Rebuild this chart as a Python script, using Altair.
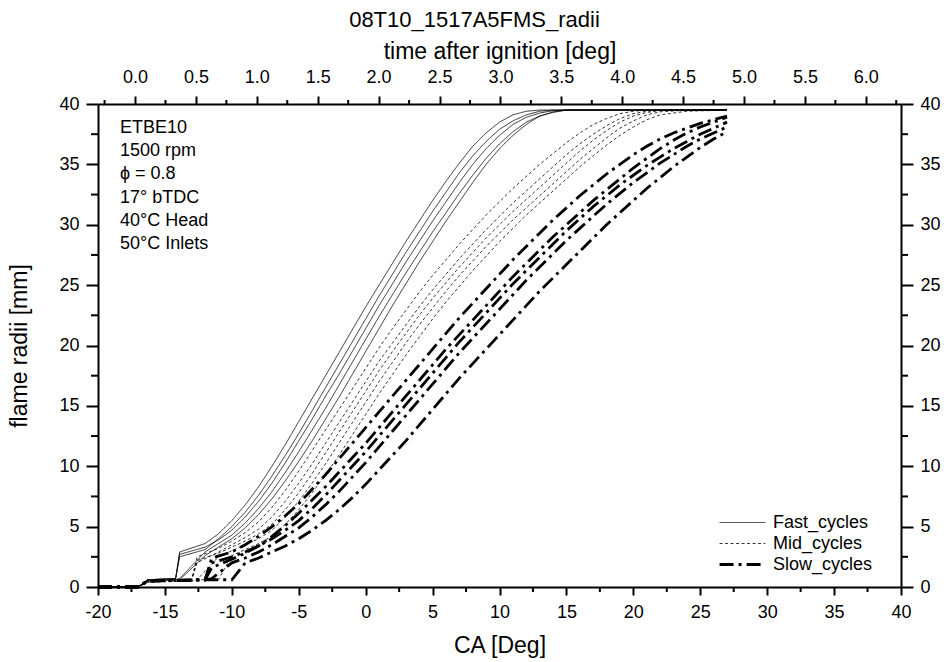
import altair as alt
import pandas as pd

FONT = "Liberation Sans"
GROUPS = ["Fast_cycles", "Mid_cycles", "Slow_cycles"]

# ---------------- data ----------------
FAST_CA = [-20, -17, -16.3, -14.2, -13.9, -12, -11, -10, -9, -8, -7, -6, -5, -4, -3, -2, -1,
           0, 1, 2, 3, 4, 5, 6, 7, 8, 9, 10, 11, 12, 13, 14, 15, 16, 27]
FAST_RUNS = [
    [0, 0, 0.6, 0.7, 2.9, 3.6, 4.4, 5.5, 6.8, 8.3, 10.0, 11.8, 13.7, 15.6, 17.5, 19.4, 21.3,
     23.2, 25.0, 26.8, 28.6, 30.3, 32.0, 33.6, 35.1, 36.5, 37.6, 38.5, 39.1, 39.4, 39.5, 39.5, 39.5, 39.5, 39.5],
    [0, 0, 0.6, 0.7, 2.5, 3.1, 4.0, 5.0, 6.2, 7.6, 9.2, 10.9, 12.7, 14.6, 16.5, 18.4, 20.3,
     22.2, 24.1, 25.9, 27.7, 29.4, 31.1, 32.7, 34.3, 35.7, 36.9, 37.9, 38.6, 39.1, 39.4, 39.5, 39.5, 39.5, 39.5],
    [0, 0, 0.6, 0.7, 2.7, 3.3, 3.9, 4.7, 5.8, 7.1, 8.6, 10.3, 12.1, 13.9, 15.8, 17.6, 19.5,
     21.4, 23.3, 25.1, 26.9, 28.6, 30.3, 31.9, 33.5, 35.0, 36.3, 37.4, 38.3, 38.9, 39.25, 39.45, 39.5, 39.5, 39.5],
    [0, 0, 0.5, 0.6, 0.7, 2.9, 3.6, 4.3, 5.3, 6.5, 7.9, 9.5, 11.2, 13.0, 14.8, 16.7, 18.6,
     20.5, 22.4, 24.2, 26.0, 27.7, 29.4, 31.0, 32.6, 34.1, 35.5, 36.7, 37.7, 38.5, 39.0, 39.3, 39.5, 39.5, 39.5],
    [0, 0, 0.5, 0.6, 0.6, 2.6, 3.3, 4.0, 4.9, 6.0, 7.3, 8.8, 10.4, 12.1, 13.9, 15.7, 17.6,
     19.5, 21.4, 23.3, 25.1, 26.9, 28.6, 30.3, 31.9, 33.5, 35.0, 36.3, 37.4, 38.3, 39.0, 39.35, 39.5, 39.5, 39.5],
]

MID_CA = [-20, -17, -16.3, -13, -12.6, -11, -10, -9, -8, -7, -6, -5, -4, -3, -2, -1,
          0, 1, 2, 3, 4, 5, 6, 7, 8, 9, 10, 11, 12, 13, 14, 15, 16, 17, 18, 19, 20, 21, 22, 24, 27]
MID_RUNS = [
    [0, 0, 0.5, 0.6, 2.5, 3.2, 3.8, 4.5, 5.4, 6.6, 8.0, 9.6, 11.3, 13.0, 14.7, 16.4,
     18.1, 19.8, 21.4, 22.9, 24.4, 25.8, 27.1, 28.4, 29.6, 30.8, 31.9, 33.0, 34.0, 35.0, 35.9, 36.8,
     37.6, 38.3, 38.8, 39.2, 39.4, 39.5, 39.5, 39.5, 39.55],
    [0, 0, 0.5, 0.6, 2.0, 2.9, 3.5, 4.1, 4.8, 5.8, 7.1, 8.6, 10.2, 11.9, 13.6, 15.3,
     17.0, 18.7, 20.2, 21.7, 23.2, 24.6, 25.9, 27.2, 28.4, 29.6, 30.7, 31.8, 32.8, 33.8, 34.8, 35.8,
     36.7, 37.5, 38.2, 38.8, 39.2, 39.4, 39.5, 39.5, 39.55],
    [0, 0, 0.5, 0.6, 2.2, 2.8, 3.3, 3.8, 4.4, 5.2, 6.4, 7.8, 9.4, 11.1, 12.8, 14.5,
     16.2, 17.9, 19.5, 21.0, 22.5, 23.9, 25.2, 26.5, 27.7, 28.9, 30.0, 31.1, 32.1, 33.1, 34.1, 35.1,
     36.1, 37.0, 37.8, 38.5, 39.0, 39.3, 39.45, 39.5, 39.55],
    [0, 0, 0.4, 0.5, 0.6, 2.5, 3.0, 3.5, 4.0, 4.7, 5.8, 7.1, 8.6, 10.2, 11.9, 13.6,
     15.3, 17.0, 18.6, 20.2, 21.7, 23.1, 24.5, 25.8, 27.0, 28.2, 29.3, 30.4, 31.4, 32.4, 33.4, 34.4,
     35.4, 36.3, 37.2, 38.0, 38.6, 39.1, 39.35, 39.5, 39.55],
    [0, 0, 0.4, 0.5, 0.6, 0.6, 2.6, 3.1, 3.6, 4.2, 5.2, 6.4, 7.8, 9.3, 10.9, 12.6,
     14.3, 16.0, 17.6, 19.2, 20.7, 22.2, 23.6, 24.9, 26.2, 27.4, 28.6, 29.7, 30.8, 31.8, 32.8, 33.8,
     34.8, 35.7, 36.6, 37.4, 38.1, 38.7, 39.1, 39.4, 39.5],
]

SLOW_CA = [-20, -17, -16.3, -12, -11.5, -10, -9, -8, -7, -6, -5, -4, -3, -2, -1,
           0, 1, 2, 3, 4, 5, 6, 7, 8, 9, 10, 11, 12, 13, 14, 15, 16, 17, 18, 19,
           20, 21, 22, 23, 24, 25, 26, 27]
SLOW_RUNS = [
    [0, 0, 0.5, 0.6, 2.4, 2.9, 3.5, 4.2, 5.0, 5.9, 6.9, 8.1, 9.3, 10.6, 11.9,
     13.2, 14.5, 15.8, 17.1, 18.4, 19.7, 21.0, 22.3, 23.5, 24.7, 25.9, 27.1, 28.2, 29.3, 30.4,
     31.4, 32.4, 33.3, 34.2, 35.0, 35.8, 36.5, 37.1, 37.6, 38.0, 38.4, 38.7, 39.0],
    [0, 0, 0.5, 0.6, 1.6, 2.3, 2.8, 3.4, 4.2, 5.1, 6.1, 7.2, 8.3, 9.5, 10.7,
     11.9, 13.2, 14.5, 15.8, 17.1, 18.4, 19.7, 20.9, 22.1, 23.3, 24.5, 25.7, 26.8, 27.9, 29.0,
     30.0, 31.0, 32.0, 32.9, 33.8, 34.7, 35.5, 36.3, 37.0, 37.6, 38.1, 38.5, 38.9],
    [0, 0, 0.5, 0.6, 2.0, 2.5, 2.9, 3.4, 4.0, 4.7, 5.5, 6.5, 7.6, 8.8, 10.0,
     11.2, 12.5, 13.8, 15.1, 16.4, 17.7, 19.0, 20.3, 21.5, 22.7, 23.9, 25.1, 26.2, 27.3, 28.4,
     29.5, 30.5, 31.5, 32.4, 33.3, 34.1, 34.9, 35.6, 36.3, 36.9, 37.5, 38.0, 38.5],
    [0, 0, 0.5, 0.6, 0.7, 2.0, 2.4, 2.9, 3.5, 4.2, 4.9, 5.8, 6.8, 7.9, 9.1,
     10.3, 11.6, 12.9, 14.2, 15.5, 16.8, 18.1, 19.4, 20.6, 21.8, 23.0, 24.2, 25.4, 26.5, 27.6,
     28.7, 29.7, 30.7, 31.7, 32.6, 33.5, 34.3, 35.1, 35.8, 36.5, 37.1, 37.6, 38.1],
    [0, 0, 0.5, 0.6, 0.6, 0.6, 2.0, 2.4, 2.9, 3.4, 4.0, 4.7, 5.5, 6.4, 7.4,
     8.5, 9.7, 10.9, 12.1, 13.4, 14.7, 16.0, 17.3, 18.5, 19.7, 20.9, 22.1, 23.3, 24.5, 25.6,
     26.7, 27.8, 28.9, 30.0, 31.0, 32.0, 33.0, 33.9, 34.8, 35.6, 36.4, 37.1, 37.7],
]

X_MAJOR = [-20, -15, -10, -5, 0, 5, 10, 15, 20, 25, 30, 35, 40]
X_MINOR = [-17.5, -12.5, -7.5, -2.5, 2.5, 7.5, 12.5, 17.5, 22.5, 27.5, 32.5, 37.5]
Y_MAJOR = [0, 5, 10, 15, 20, 25, 30, 35, 40]
Y_MINOR = [2.5, 7.5, 12.5, 17.5, 22.5, 27.5, 32.5, 37.5]
T_MAJOR = [0.0, 0.5, 1.0, 1.5, 2.0, 2.5, 3.0, 3.5, 4.0, 4.5, 5.0, 5.5, 6.0]
T_MINOR = [-0.25, 0.25, 0.75, 1.25, 1.75, 2.25, 2.75, 3.25, 3.75, 4.25, 4.75, 5.25, 5.75, 6.25]
T_DOMAIN = [-0.304, 6.289]   # time axis range matching CA -20 .. 40

ANNOT_LINES = ["ETBE10", "1500 rpm", "\u03d5 = 0.8", "17\u00b0 bTDC", "40\u00b0C Head", "50\u00b0C Inlets"]

# ---------------- build table ----------------
rows = []
for grp, ca, runs in [(GROUPS[0], FAST_CA, FAST_RUNS), (GROUPS[1], MID_CA, MID_RUNS), (GROUPS[2], SLOW_CA, SLOW_RUNS)]:
    for i, run in enumerate(runs):
        for k, (x, y) in enumerate(zip(ca, run)):
            rows.append({"group": grp, "run": f"{grp}_{i}", "ca": x, "r": y, "k": k})
df = pd.DataFrame(rows)

W, H = 803, 483

xs = alt.Scale(domain=[-20, 40], nice=False, zero=False)
ys = alt.Scale(domain=[0, 40], nice=False, zero=False)

x_axis = alt.Axis(values=X_MAJOR, title="CA [Deg]", orient="bottom", tickSize=8,
                  labelPadding=8, titlePadding=13, labelExpr="'' + datum.value")
y_axis = alt.Axis(values=Y_MAJOR, title="flame radii [mm]", orient="left", tickSize=12,
                  labelPadding=7, titlePadding=27, labelExpr="'' + datum.value")
y_axis_r = alt.Axis(values=Y_MAJOR, title=None, orient="right", tickSize=12,
                    labelPadding=7, labelExpr="'' + datum.value")
t_axis = alt.Axis(values=T_MAJOR, title="time after ignition [deg]", orient="top", tickSize=8,
                  format=".1f", labelPadding=10, titlePadding=5)

X = alt.X("ca:Q", scale=xs, axis=x_axis)
Y = alt.Y("r:Q", scale=ys, axis=y_axis)

LEG = dict(title=None, orient="none", legendX=620, legendY=408,
           symbolType="stroke", symbolSize=2100, symbolStrokeColor="black",
           labelFontSize=18, labelFont=FONT, labelColor="black",
           labelOffset=6, rowPadding=0, padding=0, clipHeight=21)

lines = alt.Chart(df).mark_line(color="black", strokeCap="butt", clip=False).encode(
    x=X,
    y=Y,
    detail="run:N",
    order="k:Q",
    strokeDash=alt.StrokeDash(
        "group:O",
        scale=alt.Scale(domain=GROUPS, range=[[1, 0], [3, 2.5], [14, 5, 3, 5]]),
        legend=alt.Legend(**LEG),
    ),
    strokeWidth=alt.StrokeWidth(
        "group:O",
        scale=alt.Scale(type="ordinal", domain=GROUPS, range=[0.8, 0.8, 2.8]),
        legend=alt.Legend(**LEG),
    ),
)

xminor = alt.Chart(pd.DataFrame({"ca": X_MINOR})).mark_rule(color="black", strokeWidth=2).encode(
    x=X, y=alt.value(H), y2=alt.value(H + 5)
)
yminor = alt.Chart(pd.DataFrame({"r": Y_MINOR})).mark_rule(color="black", strokeWidth=2).encode(
    y=Y, x=alt.value(0), x2=alt.value(-7)
)
annot = alt.Chart(pd.DataFrame({"text": ["\n".join(ANNOT_LINES)]})).mark_text(
    align="left", baseline="alphabetic", lineBreak="\n", lineHeight=23.2,
    fontSize=18, font=FONT, color="black"
).encode(x=alt.value(22), y=alt.value(29), text="text:N")

base = alt.layer(lines, xminor, yminor, annot)

top = alt.Chart(pd.DataFrame({"t": T_MINOR})).mark_rule(color="black", strokeWidth=2).encode(
    x=alt.X("t:Q", scale=alt.Scale(domain=T_DOMAIN, nice=False, zero=False), axis=t_axis),
    y=alt.value(0), y2=alt.value(-4)
)
right = alt.Chart(pd.DataFrame({"r": Y_MINOR})).mark_rule(color="black", strokeWidth=2).encode(
    y=alt.Y("r:Q", scale=ys, axis=y_axis_r), x=alt.value(W), x2=alt.value(W + 7)
)

chart = alt.layer(base, top, right).resolve_scale(x="independent", y="independent").properties(
    width=W, height=H,
    background="white",
    autosize=alt.AutoSizeParams(type="none"),
    padding={"left": 98, "top": 104, "right": 48, "bottom": 75},
    title=alt.TitleParams("08T10_1517A5FMS_radii", fontSize=22, font=FONT, fontWeight="normal",
                          color="black", anchor="middle", frame="bounds", offset=8),
).configure_view(stroke=None).configure_axis(
    grid=False, domainColor="black", domainWidth=2, tickColor="black", tickWidth=2,
    labelColor="black", titleColor="black", labelFont=FONT, titleFont=FONT,
    labelFontSize=18, titleFontSize=23, titleFontWeight="normal", labelFlush=False,
    labelOverlap=False
)

chart.save("out.html", embed_options={"renderer": "svg", "actions": False})
